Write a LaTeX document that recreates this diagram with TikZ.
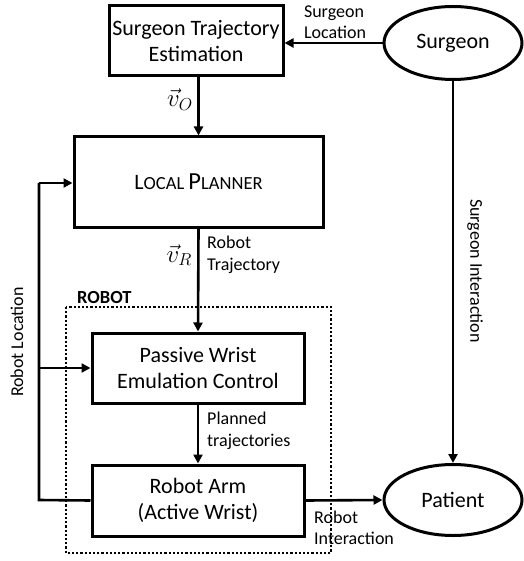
\documentclass[tikz,border=0pt]{standalone}
\usepackage{fontspec}
\setmainfont{Carlito}
\usetikzlibrary{arrows.meta,shapes.geometric}
\begin{document}
\begin{tikzpicture}[x=1pt,y=-1pt,
  box/.style={draw,line width=3pt,rectangle,align=center,inner sep=0pt,font=\fontsize{22}{26}\selectfont},
  oval/.style={draw,line width=3pt,ellipse,inner sep=0pt,font=\fontsize{22}{26}\selectfont},
  lbl/.style={align=left,inner sep=0pt,font=\fontsize{18}{21.5}\selectfont},
  mth/.style={inner sep=0pt,anchor=east,font=\fontsize{27}{30}\selectfont},
  arr/.style={line width=2.6pt,-{Triangle[length=9pt,width=9pt]}},
  ln/.style={line width=2.6pt}]
\useasboundingbox (0,0) rectangle (523,561);
\node[box,minimum width=174,minimum height=70] (ste) at (196,41) {Surgeon Trajectory\\Estimation};
\node[box,minimum width=249,minimum height=90] (lp) at (198.5,182) {L\fontsize{18.5}{22}\selectfont OCAL \fontsize{24.5}{28}\selectfont P\fontsize{18.5}{22}\selectfont LANNER};
\node[box,minimum width=212,minimum height=70] (pw) at (198,368) {Passive Wrist\\Emulation Control};
\node[box,minimum width=212,minimum height=71] (ra) at (198,500.5) {Robot Arm\\(Active Wrist)};
\node[oval,minimum width=138,minimum height=73] (sg) at (453,43) {Surgeon};
\node[oval,minimum width=138,minimum height=71] (pt) at (453,500) {Patient};
\draw[line width=2.2pt,dotted] (66,307) rectangle (331,553);
\node[inner sep=0pt,anchor=south west,font=\fontsize{18.5}{21}\selectfont\bfseries] (rb) at (77,304) {ROBOT};
% arrows
\draw[arr] (sg.west) -- (ste.east |- sg.west);
\draw[arr] (ste.south -| lp.north) -- (lp.north);
\draw[arr] (lp.south) -- (pw.north);
\draw[arr] (pw.south) -- (ra.north);
\draw[arr] (ra.east) -- (pt.west);
\draw[arr] (sg.south) -- (pt.north);
\coordinate (c1) at (39,500);
\coordinate (c2) at (39,183);
\coordinate (c3) at (39,368);
\draw[ln] (ra.west) -- (c1) -- (c2);
\draw[arr] (c2) -- (c2 -| lp.west);
\draw[arr] (c3) -- (pw.west);
% labels
\node[lbl] (l1) at (335,22) {Surgeon\\Location};
\node[mth] (vo) at (193,100) {$\vec{v}_{O}$};
\node[mth] (vr) at (192,255) {$\vec{v}_{R}$};
\node[lbl,anchor=west] (l2) at (207,255) {Robot\\Trajectory};
\node[lbl,anchor=west] (l3) at (207,431) {Planned\\trajectories};
\node[lbl,anchor=west] (l4) at (314,528) {Robot\\Interaction};
\node[lbl,rotate=-90] (l5) at (475,271) {Surgeon Interaction};
\node[lbl,rotate=90] (l6) at (17,342) {Robot Location};
\end{tikzpicture}
\end{document}
